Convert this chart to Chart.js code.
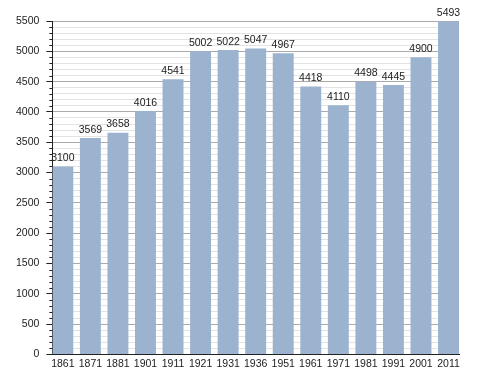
<!DOCTYPE html>
<html>
<head>
<meta charset="utf-8">
<script src="https://cdn.jsdelivr.net/npm/chart.js@4/dist/chart.umd.min.js"></script>
<style>
  html, body { margin: 0; padding: 0; background: #fff; }
  #wrap { width: 488px; height: 373px; }
</style>
</head>
<body>
<div id="wrap"><canvas id="popChart"></canvas></div>
<script>
'use strict'

const anni = ['1861','1871','1881','1901','1911','1921','1931','1936','1951','1961','1971','1981','1991','2001','2011']
const abitanti = [3100,3569,3658,4016,4541,5002,5022,5047,4967,4418,4110,4498,4445,4900,5493]
const yTicks = [0,500,1000,1500,2000,2500,3000,3500,4000,4500,5000,5500]

const fontFam = '"Liberation Sans", Arial, sans-serif'
const barFrac = 0.76

// value labels over the bars
const etichette = {
  id: 'etichette',
  afterDatasetsDraw(chart) {
    const ctx = chart.ctx
    const meta = chart.getDatasetMeta(0)
    ctx.save()
    ctx.font = '10.5px ' + fontFam
    ctx.fillStyle = '#222'
    ctx.textAlign = 'center'
    ctx.textBaseline = 'bottom'
    meta.data.forEach((bar, i) => {
      ctx.fillText(String(abitanti[i]), bar.x, bar.y - 3)
    })
    ctx.restore()
  }
}

// short minor ticks on the y axis
const tacche = {
  id: 'tacche',
  afterDraw(chart) {
    const y = chart.scales.y
    const ctx = chart.ctx
    const left = chart.chartArea.left
    ctx.save()
    ctx.strokeStyle = '#222'
    ctx.lineWidth = 1
    y.ticks.forEach(t => {
      if (t.value % 500 === 0) return
      const py = Math.round(y.getPixelForValue(t.value)) + 0.5
      ctx.beginPath()
      ctx.moveTo(left - 3, py)
      ctx.lineTo(left, py)
      ctx.stroke()
    })
    ctx.restore()
  }
}

const data = {
  datasets: [{
    data: anni.map((a, i) => ({ x: i, y: abitanti[i] })),
    backgroundColor: 'rgb(155,179,207)',
    borderWidth: 0,
    barPercentage: 1,
    categoryPercentage: barFrac
  }]
}

const config = {
  type: 'bar',
  data: data,
  options: {
    responsive: true,
    maintainAspectRatio: false,
    animation: false,
    layout: { padding: { left: 9, right: 29, top: 21, bottom: 0 } },
    plugins: { legend: { display: false }, tooltip: { enabled: false } },
    scales: {
      x: {
        type: 'linear',
        offset: false,
        min: -barFrac / 2,
        max: anni.length - 1 + barFrac / 2,
        grid: { display: false, drawTicks: false },
        border: { display: true, color: '#222', width: 1 },
        ticks: {
          stepSize: 1,
          includeBounds: false,
          autoSkip: false,
          maxRotation: 0,
          padding: 3,
          color: '#222',
          font: { family: fontFam, size: 10.5 },
          callback: v => Number.isInteger(v) ? anni[v] : ''
        }
      },
      y: {
        min: 0,
        max: 5500,
        grid: {
          color: c => c.tick && yTicks.includes(c.tick.value) ? '#aaaaaa' : '#e3e3e3',
          tickColor: c => c.tick && yTicks.includes(c.tick.value) ? '#222' : 'rgba(0,0,0,0)',
          tickLength: 6
        },
        border: { display: true, color: '#222', width: 1 },
        ticks: {
          stepSize: 100,
          autoSkip: false,
          padding: 7,
          color: '#222',
          font: { family: fontFam, size: 10.5 },
          callback: v => yTicks.includes(v) ? String(v) : ''
        }
      }
    }
  },
  plugins: [etichette, tacche]
}

new Chart(document.querySelector('#popChart'), config)
</script>
</body>
</html>
